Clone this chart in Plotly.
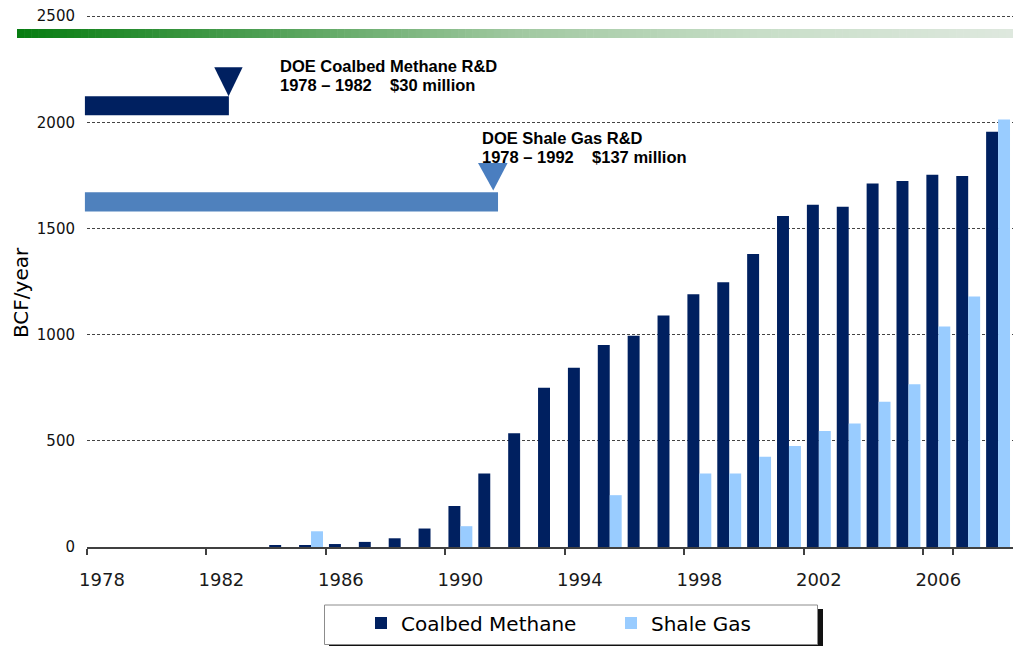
import plotly.graph_objects as go

# ---------------- data ----------------
years = [str(y) for y in range(1978, 2009)]
coalbed_methane = [0, 0, 0, 0, 0, 0, 7, 8, 14, 24, 41, 87, 193, 346, 536, 750,
                   844, 951, 995, 1090, 1190, 1247, 1380, 1559, 1611, 1602,
                   1712, 1723, 1753, 1747, 1955]
shale_gas = [0, 0, 0, 0, 0, 0, 0, 74, 0, 0, 0, 0, 98, 0, 0, 0,
             0, 244, 0, 0, 346, 346, 425, 476, 546, 582,
             684, 766, 1038, 1179, 2013]
y_tick_values = [0, 500, 1000, 1500, 2000, 2500]
x_tick_labels = years[::4]

# ---------------- geometry helpers (styling only) ----------------
W, H = 1013, 646
ML, MR, MT, MB = 87, 0, 15, 99
PW, PH = W - ML - MR, H - MT - MB
NCAT = len(years)
YTOP = 2505


def pxx(px):
    return (px - ML) / PW


def pxy(py):
    return (H - MB - py) / PH


def idx2p(i):
    return (i + 0.5) / NCAT


def val2p(v):
    return v / YTOP


NAVY = "#002060"
LIGHT = "#99CCFF"
STEEL = "#4F81BD"

fig = go.Figure()
fig.add_trace(go.Bar(name="Coalbed Methane", x=years, y=coalbed_methane,
                     marker=dict(color=NAVY, line=dict(width=0))))
fig.add_trace(go.Bar(name="Shale Gas", x=years, y=shale_gas,
                     marker=dict(color=LIGHT, line=dict(width=0))))

shapes = []

# green gradient band at top
stops = [(0.0, (8, 125, 18)), (0.25, (80, 160, 85)), (0.5, (160, 200, 160)),
         (0.75, (200, 222, 200)), (1.0, (222, 232, 222))]


def grad(t):
    for (t0, c0), (t1, c1) in zip(stops[:-1], stops[1:]):
        if t0 <= t <= t1:
            f = (t - t0) / (t1 - t0)
            return "rgb(%d,%d,%d)" % tuple(round(a + (b - a) * f) for a, b in zip(c0, c1))
    return "rgb(%d,%d,%d)" % stops[-1][1]


NSEG = 140
gx0, gx1, gy0, gy1 = 17, 1013, 29, 38
for k in range(NSEG):
    a = gx0 + (gx1 - gx0) * k / NSEG
    b = gx0 + (gx1 - gx0) * (k + 1) / NSEG + 0.6
    shapes.append(dict(type="rect", xref="paper", yref="paper",
                       x0=pxx(a), x1=pxx(b), y0=pxy(gy1), y1=pxy(gy0),
                       fillcolor=grad(k / (NSEG - 1)), line=dict(width=0),
                       layer="above"))

# DOE program bars and markers (category index / BCF units)
programs = [
    dict(x0=-0.57, x1=4.25, y0=2033, y1=2123, tri=(3.76, 4.71, 4.24, 2259, 2123), color=NAVY, tcolor=NAVY),
    dict(x0=-0.57, x1=13.26, y0=1580, y1=1670, tri=(12.59, 13.58, 13.10, 1808, 1679), color=STEEL, tcolor="#4A7EC0"),
]
for p in programs:
    shapes.append(dict(type="rect", xref="paper", yref="paper",
                       x0=idx2p(p["x0"]), x1=idx2p(p["x1"]),
                       y0=val2p(p["y0"]), y1=val2p(p["y1"]),
                       fillcolor=p["color"], line=dict(width=0), layer="above"))
    l, r, c, top, apex = p["tri"]
    path = "M %f %f L %f %f L %f %f Z" % (idx2p(l), val2p(top), idx2p(r), val2p(top), idx2p(c), val2p(apex))
    shapes.append(dict(type="path", xref="paper", yref="paper", path=path,
                       fillcolor=p["tcolor"], line=dict(width=0), layer="above"))

# legend box with shadow
shapes.append(dict(type="rect", xref="paper", yref="paper",
                   x0=pxx(329), x1=pxx(823), y0=pxy(660), y1=pxy(609),
                   fillcolor="#111111", line=dict(width=0), layer="above"))
shapes.append(dict(type="rect", xref="paper", yref="paper",
                   x0=pxx(324.5), x1=pxx(817.5), y0=pxy(644.5), y1=pxy(605),
                   fillcolor="white", line=dict(color="#8c8c8c", width=1), layer="above"))

NB = "\u00a0"
ann_font = dict(family="Liberation Sans, Arial, sans-serif", size=16.5, color="black")
annotations = [
    dict(text="<b>DOE Coalbed Methane R&D</b>", x=pxx(278), y=pxy(66)),
    dict(text="<b>1978 – 1982" + NB * 4 + "$30 million</b>", x=pxx(278), y=pxy(85)),
    dict(text="<b>DOE Shale Gas R&D</b>", x=pxx(480), y=pxy(138)),
    dict(text="<b>1978 – 1992" + NB * 4 + "$137 million</b>", x=pxx(480), y=pxy(156.5)),
]
for a in annotations:
    a.update(xref="paper", yref="paper", xanchor="left", yanchor="middle",
             showarrow=False, font=ann_font)
annotations.append(dict(text="BCF/year", x=pxx(21), y=pxy(293), xref="paper", yref="paper",
                        textangle=-90, showarrow=False, xanchor="center", yanchor="middle",
                        font=dict(family="DejaVu Sans, Verdana, sans-serif", size=20, color="black")))

fig.update_layout(
    width=W, height=H,
    margin=dict(l=ML, r=MR, t=MT, b=MB, pad=0, autoexpand=False),
    paper_bgcolor="white", plot_bgcolor="white",
    barmode="group", bargap=0.2, bargroupgap=0,
    font=dict(family="DejaVu Sans, Verdana, sans-serif", color="#1a1a1a"),
    xaxis=dict(type="category", range=[-0.5, NCAT - 0.5],
               tickmode="array", tickvals=x_tick_labels, ticktext=x_tick_labels,
               tickson="boundaries", ticks="outside", ticklen=6, tickwidth=1.5,
               tickcolor="#404040", showline=True, linecolor="#404040", linewidth=1.5,
               showgrid=False, tickfont=dict(size=18, color="#1a1a1a"),
               tickangle=0, ticklabelstandoff=16, automargin=False),
    yaxis=dict(range=[0, YTOP], tickmode="array", tickvals=y_tick_values,
               showgrid=True, gridcolor="#444444", gridwidth=1, griddash="3px,2px",
               zeroline=False, showline=False, ticks="", automargin=False,
               tickfont=dict(size=15, color="#111111"), ticklabelstandoff=11),
    legend=dict(orientation="h", x=pxx(361), xanchor="left", y=pxy(623), yanchor="middle",
                bgcolor="rgba(0,0,0,0)", borderwidth=0,
                font=dict(family="DejaVu Sans, Verdana, sans-serif", size=20, color="black"),
                entrywidth=205, entrywidthmode="pixels", traceorder="normal"),
    shapes=shapes,
    annotations=annotations,
    showlegend=True,
)

fig.write_html("out.html", config={"displayModeBar": False},
               post_script="document.body.style.margin='0px';")
